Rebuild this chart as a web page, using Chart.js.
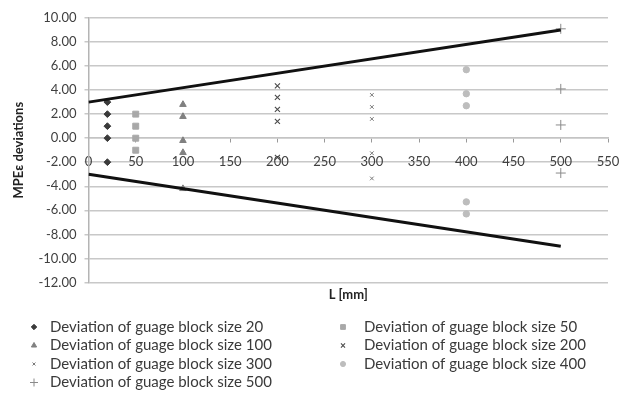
<!DOCTYPE html>
<html>
<head>
<meta charset="utf-8">
<script src="https://cdn.jsdelivr.net/npm/chart.js@4.4.1/dist/chart.umd.min.js"></script>
<style>
    html, body { margin: 0; padding: 0; background: #fff; }
    #wrap { width: 624px; height: 393px; }
</style>
</head>
<body>
<div id="wrap"><canvas id="chart"></canvas></div>
<script>
// axis ticks
const xTicks = [0, 50, 100, 150, 200, 250, 300, 350, 400, 450, 500, 550];
const yTicks = [-12, -10, -8, -6, -4, -2, 0, 2, 4, 6, 8, 10];

// deviations read per gauge block size (L in mm)
const blockSizes = [20, 50, 100, 200, 300, 400, 500];
const dev20 = [3, 2, 1, 0, -2];
const dev50 = [2, 1, 0, -1];
const dev100 = [2.8, 1.8, -0.2, -1.2, -4.2];
const dev200 = [4.35, 3.4, 2.4, 1.4, -1.6];
const dev300 = [3.6, 2.6, 1.6, -1.25, -3.35];
const dev400 = [5.7, 3.7, 2.7, -5.3, -6.3];
const dev500 = [9.1, 4.1, 1.1, -2.9];

// MPE limit lines
const limitL = [0, 500];
const upperLimit = [3, 9];
const lowerLimit = [-3, -9];

const FONT = 'Lato';

function pts(size, values) {
    return values.map(v => ({ x: size, y: v }));
}

function series(size, values, style, color, radius, lineWidth) {
    return {
        label: 'Deviation of guage block size ' + size,
        data: pts(size, values),
        pointStyle: style,
        pointRadius: radius,
        pointHoverRadius: radius,
        backgroundColor: color,
        borderColor: color,
        pointBorderWidth: lineWidth,
        borderWidth: lineWidth,
        showLine: false,
        inLegend: true
    };
}

function limit(values) {
    return {
        label: 'limit',
        data: limitL.map((x, i) => ({ x, y: values[i] })),
        showLine: true,
        borderColor: '#111',
        borderWidth: 3,
        pointRadius: 0,
        order: -1
    };
}

const datasets = [
    series(blockSizes[0], dev20, 'rectRot', '#3a3a3a', 3.4, 1),
    series(blockSizes[1], dev50, 'rect', '#a8a8a8', 4.2, 1),
    series(blockSizes[2], dev100, 'triangle', '#808080', 3.8, 1),
    series(blockSizes[3], dev200, 'crossRot', '#4a4a4a', 3.6, 1.1),
    series(blockSizes[4], dev300, 'crossRot', '#7a7a7a', 2.6, 1),
    series(blockSizes[5], dev400, 'circle', '#bdbdbd', 3.2, 1),
    series(blockSizes[6], dev500, 'cross', '#8a8a8a', 5, 1),
    limit(upperLimit),
    limit(lowerLimit)
];

// two-column legend under the axis title, drawn with chart's own point helper
const gridLegend = {
    id: 'gridLegend',
    afterDraw(chart) {
        const ctx = chart.ctx;
        const items = chart.data.datasets.filter(d => d.inLegend);
        items.forEach((ds, i) => {
            const col = i % 2;
            const row = Math.floor(i / 2);
            const mx = col ? 343 : 34;
            const tx = col ? 364 : 50;
            const y = 327 + row * 18.5;
            ctx.save();
            ctx.fillStyle = ds.backgroundColor;
            ctx.strokeStyle = ds.borderColor;
            ctx.lineWidth = ds.borderWidth;
            Chart.helpers.drawPoint(ctx, {
                pointStyle: ds.pointStyle,
                radius: ds.pointRadius * 0.8,
                rotation: 0,
                borderWidth: ds.borderWidth
            }, mx, y);
            ctx.fillStyle = '#3a3a3a';
            ctx.font = '15px ' + FONT;
            ctx.textBaseline = 'middle';
            ctx.textAlign = 'left';
            ctx.fillText(ds.label, tx, y);
            ctx.restore();
        });
    }
};

new Chart(document.getElementById('chart'), {
    type: 'scatter',
    data: { datasets },
    options: {
        responsive: true,
        maintainAspectRatio: false,
        animation: false,
        layout: {
            padding: { top: 18, right: 16, left: 0, bottom: 90 }
        },
        scales: {
            x: {
                type: 'linear',
                min: 0,
                max: 550,
                position: { y: 0 },
                afterBuildTicks: axis => { axis.ticks = xTicks.map(v => ({ value: v })); },
                afterFit: scale => {
                    scale.height = 0;
                    scale.paddingLeft = 0;
                    scale.paddingRight = 0;
                },
                ticks: {
                    padding: 12,
                    color: '#404040',
                    font: { family: FONT, size: 13 }
                },
                grid: {
                    drawOnChartArea: false,
                    drawTicks: true,
                    tickLength: 4,
                    color: '#999'
                },
                border: { color: '#c4c4c4', width: 1.5 }
            },
            y: {
                min: -12,
                max: 10,
                afterBuildTicks: axis => { axis.ticks = yTicks.map(v => ({ value: v })); },
                afterFit: scale => { scale.width = 88.5; },
                ticks: {
                    padding: 8,
                    color: '#404040',
                    font: { family: FONT, size: 13 },
                    callback: v => Number(v).toFixed(2)
                },
                grid: {
                    color: '#c8c8c8',
                    lineWidth: 1.5,
                    tickLength: 4
                },
                border: { color: '#b4b4b4', width: 1.5 },
                title: {
                    display: true,
                    text: 'MPEε deviations',
                    color: '#222',
                    font: { family: FONT, size: 13, weight: 'bold' },
                    padding: { top: 11, bottom: 0 }
                }
            }
        },
        plugins: {
            legend: { display: false },
            tooltip: { enabled: false },
            title: {
                display: true,
                text: 'L [mm]',
                position: 'bottom',
                fullSize: false,
                color: '#222',
                font: { family: FONT, size: 13, weight: 'bold' },
                padding: { top: 5, bottom: 0 }
            }
        }
    },
    plugins: [gridLegend]
});
</script>
</body>
</html>
